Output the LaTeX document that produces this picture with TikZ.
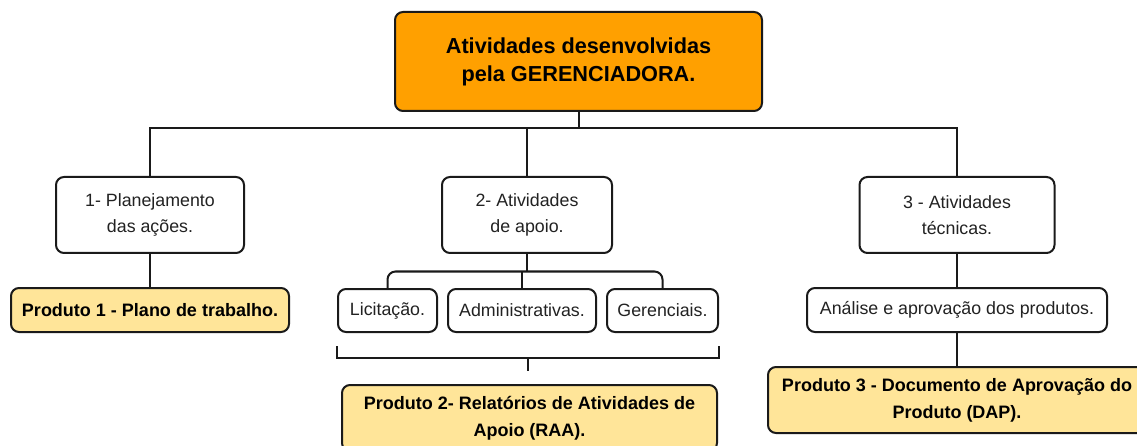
\documentclass[tikz,border=0pt]{standalone}
\usepackage{fontspec}
\setmainfont{Liberation Sans}
\begin{document}
\begin{tikzpicture}[x=1pt,y=-1pt,
  box/.style={draw=linec, line width=2pt, rounded corners=8pt, fill=white, text=txt,
    align=center, inner sep=0pt, font=\fontsize{17.8}{26}\selectfont},
  prod/.style={box, fill=prodfill, text=black, font=\fontsize{18}{27}\selectfont\bfseries},
  conn/.style={draw=linec, line width=2pt}]
\definecolor{linec}{HTML}{1A1A1A}
\definecolor{txt}{HTML}{222222}
\definecolor{orangefill}{HTML}{FFA000}
\definecolor{prodfill}{HTML}{FFE599}
\useasboundingbox (0,0) rectangle (1137,446);
\clip (0,0) rectangle (1137,446);
% nodes
\node[box, fill=orangefill, text=black, minimum width=367pt, minimum height=99pt,
  font=\fontsize{21.7}{28}\selectfont\bfseries] (t) at (578.5,61.5) {Atividades desenvolvidas\\pela GERENCIADORA.};
\node[box, minimum width=188pt, minimum height=76pt] (b1) at (150,215) {1- Planejamento\\das ações.};
\node[box, minimum width=170pt, minimum height=76pt] (b2) at (527,215) {2- Atividades\\de apoio.};
\node[box, minimum width=195pt, minimum height=76pt] (b3) at (957,215) {3 - Atividades\\técnicas.};
\node[prod, minimum width=278pt, minimum height=44pt] (p1) at (150,310) {Produto 1 - Plano de trabalho.};
\node[box, minimum width=99pt, minimum height=43pt] (lic) at (387.5,310.5) {Licitação.};
\node[box, minimum width=148pt, minimum height=43pt] (adm) at (522,310.5) {Administrativas.};
\node[box, minimum width=111pt, minimum height=43pt] (ger) at (662.5,310.5) {Gerenciais.};
\node[box, minimum width=300pt, minimum height=44pt] (an) at (957,310) {Análise e aprovação dos produtos.};
\node[prod, minimum width=375pt, minimum height=66pt] (p2) at (529.5,418) {Produto 2- Relatórios de Atividades de\\Apoio (RAA).};
\node[prod, minimum width=378pt, minimum height=66pt] (p3) at (957,400) {Produto 3 - Documento de Aprovação do\\Produto (DAP).};
% coordinates
\coordinate (bar) at (579,128);
\coordinate (sub) at (527,271.5);
\coordinate (brk) at (528,358);
\coordinate (brkend) at (528,371);
% connectors
\draw[conn] (t.south) -- (t.south |- bar);
\draw[conn] (b1.north) |- (b3.north |- bar) -- (b3.north);
\draw[conn] (b2.north |- bar) -- (b2.north);
\draw[conn] (b1.south) -- (p1.north);
\draw[conn] (b2.south) -- (b2.south |- sub);
\draw[conn, rounded corners=8pt] (lic.north) |- (ger.north |- sub) -- (ger.north);
\draw[conn] (adm.north |- sub) -- (adm.north);
\draw[conn] ([yshift=-13pt]lic.south west) -- (lic.south west |- brk) -- (ger.south east |- brk) -- ([yshift=-13pt]ger.south east);
\draw[conn] (brk) -- (brkend);
\draw[conn] (b3.south) -- (an.north);
\draw[conn] (an.south) -- (p3.north);
\end{tikzpicture}
\end{document}
